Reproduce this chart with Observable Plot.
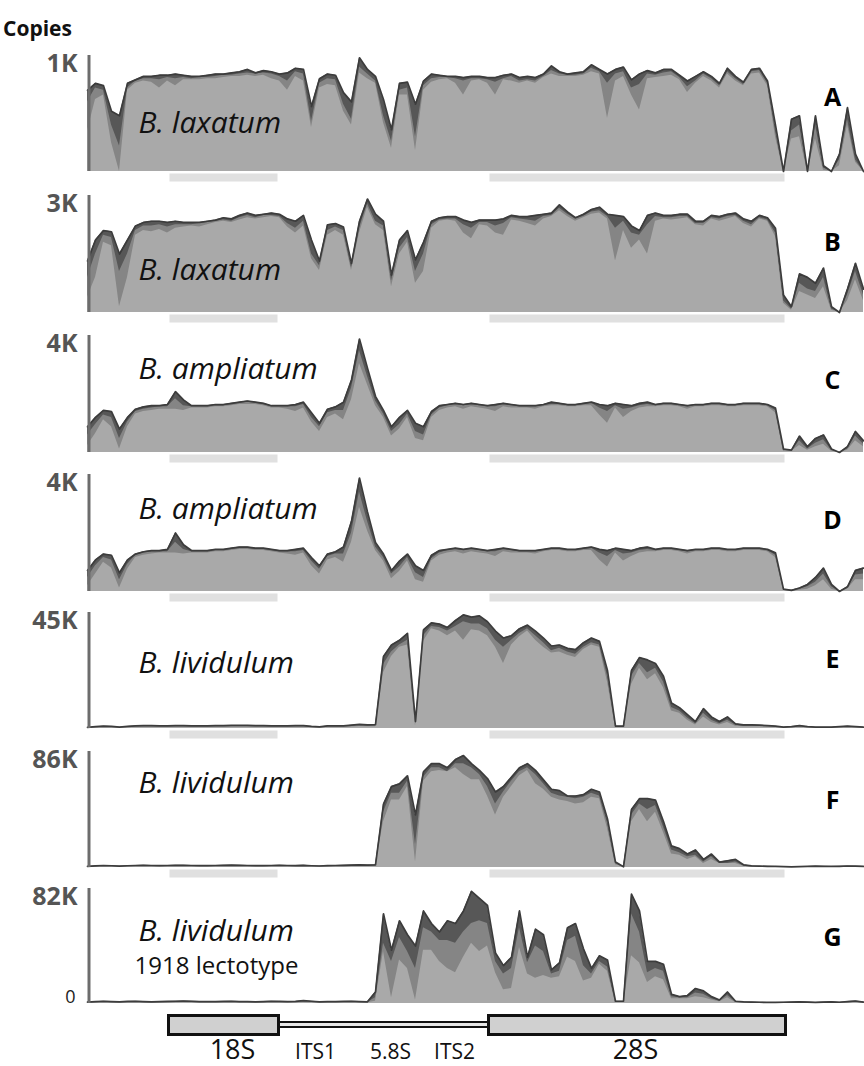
<!DOCTYPE html>
<html>
<head>
<meta charset="utf-8">
<script src="https://cdn.jsdelivr.net/npm/d3@7"></script>
<script src="https://cdn.jsdelivr.net/npm/@observablehq/plot@0.6"></script>
<style>
  html, body { margin: 0; padding: 0; background: #fff; }
  #wrap { position: relative; width: 864px; height: 1066px; font-family: "Open Sans", sans-serif; }
  #title { position: absolute; left: 3px; top: 18px; font-size: 21px; line-height: 21px; font-weight: 700; color: #111; }
  #charts { position: absolute; left: 0; top: 50px; width: 864px; }
  #charts svg { display: block; }
</style>
</head>
<body>
<div id="wrap">
  <div id="title">Copies</div>
  <div id="charts"></div>
</div>
<script>
// sample positions along the rDNA region (relative units)
const position = [0,8,16,24,32,40,48,56,64,72,80,88,96,104,112,120,128,136,144,152,160,168,176,184,192,200,208,216,224,232,240,248,256,264,272,280,288,296,304,312,320,328,336,344,352,360,368,376,384,392,400,408,416,424,432,440,448,456,464,472,480,488,496,504,512,520,528,536,544,552,560,568,576,584,592,600,608,616,624,632,640,648,656,664,672,680,688,696,704,712,720,728,736,744,752,760,768,776];

// copies (thousands); three overlaid coverage series per panel: top (dark), mid, low (light)
const A_top = [.70,.76,.74,.52,.48,.76,.79,.82,.82,.83, .83,.84,.83,.82,.82,.83,.84,.84,.85,.86, .88,.85,.87,.86,.84,.85,.89,.88,.56,.80, .84,.83,.68,.60,.98,.88,.82,.62,.36,.76, .77,.58,.78,.84,.83,.82,.82,.81,.82,.82, .81,.81,.83,.84,.81,.82,.81,.84,.91,.86, .84,.85,.86,.92,.88,.84,.88,.90,.79,.84, .87,.85,.88,.88,.83,.78,.82,.86,.82,.76, .89,.82,.77,.88,.89,.78,.40,0,.45,.48, 0,.48,.05,0,.15,.55,.15,0];
const A_mid = [.60,.72,.70,.40,.22,.72,.78,.80,.80,.79, .81,.80,.81,.80,.81,.81,.82,.83,.83,.84, .85,.84,.85,.84,.82,.78,.86,.84,.43,.76, .80,.79,.58,.45,.90,.84,.78,.48,.26,.70, .72,.30,.74,.80,.81,.81,.80,.78,.80,.80, .79,.77,.80,.82,.78,.79,.78,.82,.87,.84, .83,.83,.84,.89,.86,.76,.84,.86,.72,.75, .84,.83,.85,.86,.81,.73,.78,.84,.80,.74, .86,.80,.75,.86,.87,.76,.35,0,.35,.40, 0,.40,.03,0,.10,.45,.10,0];
const A_low = [.35,.62,.66,.25,0,.70,.76,.78,.77,.72, .78,.74,.79,.79,.79,.80,.80,.81,.82,.82, .83,.82,.83,.80,.78,.70,.82,.78,.38,.72, .75,.74,.52,.40,.85,.80,.76,.42,.20,.66, .66,.18,.70,.77,.79,.80,.76,.66,.78,.79, .76,.66,.79,.78,.76,.78,.76,.81,.84,.82, .82,.82,.83,.86,.84,.46,.78,.82,.66,.53, .80,.81,.82,.83,.79,.68,.76,.82,.78,.72, .84,.78,.74,.84,.85,.74,.30,0,.28,.30, 0,.28,.01,0,.05,.40,.08,0];

const B_top = [1.32,1.86,2.10,2.07,1.50,1.86,2.22,2.31,2.34,2.34, 2.31,2.34,2.31,2.31,2.31,2.34,2.37,2.43,2.40,2.49, 2.55,2.49,2.52,2.55,2.52,2.40,2.34,2.49,1.86,1.32, 2.25,2.28,2.19,1.26,2.34,2.91,2.52,2.34,0.96,1.86, 2.10,1.35,1.80,2.34,2.43,2.46,2.46,2.37,2.31,2.37, 2.37,2.37,2.40,2.49,2.46,2.46,2.49,2.52,2.55,2.76, 2.58,2.43,2.52,2.64,2.70,2.52,2.49,2.46,2.22,2.10, 2.49,2.55,2.49,2.49,2.52,2.52,2.34,2.34,2.49,2.46, 2.52,2.55,2.40,2.34,2.49,2.43,2.16,0.45,0.15,0.99, 0.90,0.75,1.14,0.15,0,0.60,1.26,0.60];
const B_mid = [.90,1.50,1.98,1.92,1.05,1.50,2.10,2.22,2.22,2.25, 2.19,2.25,2.25,2.25,2.28,2.31,2.34,2.37,2.34,2.43, 2.49,2.43,2.49,2.49,2.46,2.28,2.16,2.34,1.50,1.20, 2.10,2.19,2.10,1.14,2.16,2.79,2.34,2.22,.81,1.65, 1.92,1.05,1.50,2.25,2.37,2.40,2.40,2.25,2.16,2.31, 2.31,2.22,2.28,2.43,2.40,2.37,2.34,2.46,2.49,2.67, 2.52,2.40,2.46,2.58,2.61,2.46,2.16,2.34,2.04,1.98, 2.25,2.46,2.43,2.43,2.46,2.46,2.28,2.28,2.43,2.40, 2.46,2.49,2.34,2.25,2.43,2.37,2.04,.30,.09,.75, .60,.54,.90,.09,0,.45,1.05,.45];
const B_low = [.39,.90,1.80,1.71,.15,.90,1.98,2.10,2.07,2.13, 2.04,2.16,2.19,2.22,2.19,2.25,2.31,2.34,2.31,2.37, 2.43,2.40,2.43,2.46,2.43,2.19,2.04,2.22,1.38,1.08, 1.98,2.10,1.98,1.08,2.04,2.70,2.25,2.10,.66,1.50, 1.80,.75,1.05,2.16,2.34,2.37,2.34,2.04,1.89,2.25, 2.22,2.04,1.98,2.37,2.34,2.28,2.22,2.40,2.46,2.61, 2.46,2.34,2.43,2.52,2.55,2.40,1.32,2.10,1.65,1.86, 1.50,2.34,2.40,2.37,2.40,2.43,2.25,2.22,2.40,2.34, 2.40,2.46,2.28,2.19,2.40,2.34,1.95,.24,.06,.54, .45,.36,.66,.06,0,.30,.84,.30];

const C_top = [.88,1.20,1.44,1.40,.80,1.20,1.48,1.56,1.60,1.60, 1.64,2.08,1.80,1.60,1.60,1.60,1.64,1.64,1.68,1.72, 1.76,1.72,1.68,1.60,1.60,1.60,1.64,1.72,1.36,1.00, 1.48,1.56,1.72,2.48,3.88,2.88,1.92,1.44,.88,1.20, 1.44,1.00,.88,1.40,1.60,1.64,1.68,1.64,1.68,1.64, 1.60,1.64,1.68,1.64,1.60,1.60,1.60,1.64,1.72,1.68, 1.64,1.64,1.68,1.72,1.64,1.60,1.68,1.64,1.60,1.68, 1.72,1.64,1.68,1.68,1.64,1.60,1.64,1.64,1.68,1.68, 1.64,1.64,1.68,1.68,1.68,1.64,1.52,.12,.08,.56, .20,.48,.60,.12,0,.20,.72,.40];
const C_mid = [.60,.96,1.28,1.20,.48,1.04,1.40,1.48,1.52,1.56, 1.56,1.84,1.60,1.56,1.56,1.56,1.60,1.60,1.64,1.68, 1.72,1.68,1.64,1.56,1.56,1.56,1.56,1.64,1.20,.88, 1.36,1.44,1.44,2.20,3.48,2.60,1.76,1.32,.72,.96, 1.32,.72,.60,1.28,1.52,1.60,1.64,1.60,1.64,1.60, 1.56,1.56,1.64,1.60,1.56,1.56,1.56,1.60,1.64,1.64, 1.60,1.60,1.64,1.68,1.52,1.40,1.60,1.48,1.52,1.60, 1.64,1.60,1.64,1.64,1.60,1.56,1.60,1.60,1.64,1.64, 1.60,1.60,1.64,1.64,1.64,1.60,1.44,.08,.04,.40, .12,.32,.44,.08,0,.12,.56,.28];
const C_low = [.24,.64,1.12,.88,.12,.88,1.32,1.40,1.44,1.48, 1.48,1.48,1.44,1.52,1.52,1.52,1.56,1.56,1.60,1.64, 1.64,1.64,1.60,1.52,1.52,1.48,1.40,1.52,1.04,.72, 1.20,1.32,1.12,1.80,3.04,2.32,1.60,1.20,.56,.80, 1.20,.48,.40,1.20,1.44,1.52,1.56,1.48,1.56,1.52, 1.48,1.40,1.56,1.52,1.52,1.52,1.48,1.56,1.60,1.60, 1.56,1.56,1.60,1.60,1.28,1.00,1.52,1.20,1.40,1.52, 1.56,1.56,1.60,1.60,1.56,1.48,1.56,1.56,1.60,1.60, 1.56,1.56,1.60,1.60,1.60,1.56,1.36,.04,.04,.24, .08,.20,.28,.04,0,.08,.40,.20];

const D_top = [.72,1.08,1.28,1.24,.64,1.08,1.28,1.36,1.40,1.40, 1.44,2.00,1.60,1.40,1.40,1.40,1.44,1.44,1.48,1.52, 1.52,1.48,1.48,1.44,1.40,1.40,1.44,1.48,1.16,.88, 1.28,1.36,1.52,2.40,3.88,2.72,1.68,1.28,.72,1.04, 1.28,.88,.72,1.24,1.40,1.44,1.48,1.44,1.48,1.44, 1.40,1.44,1.48,1.44,1.40,1.40,1.40,1.44,1.48,1.48, 1.44,1.44,1.48,1.52,1.44,1.40,1.48,1.44,1.40,1.48, 1.52,1.44,1.48,1.48,1.44,1.40,1.44,1.44,1.48,1.48, 1.44,1.44,1.48,1.48,1.48,1.44,1.32,.08,.04,.12, .24,.48,.80,.24,0,.16,.72,.80];
const D_mid = [.48,.88,1.16,1.08,.40,.92,1.24,1.32,1.36,1.36, 1.36,1.68,1.44,1.36,1.36,1.36,1.40,1.40,1.44,1.48, 1.48,1.44,1.44,1.40,1.36,1.36,1.36,1.40,1.04,.76, 1.20,1.28,1.28,2.00,3.40,2.40,1.52,1.16,.60,.84, 1.16,.64,.48,1.12,1.32,1.40,1.44,1.40,1.44,1.40, 1.36,1.36,1.44,1.40,1.36,1.36,1.36,1.40,1.44,1.44, 1.40,1.40,1.44,1.48,1.32,1.20,1.40,1.28,1.32,1.40, 1.44,1.40,1.44,1.44,1.40,1.36,1.40,1.40,1.44,1.44, 1.40,1.40,1.44,1.44,1.44,1.40,1.24,.04,.04,.08, .16,.32,.60,.16,0,.12,.56,.60];
const D_low = [.20,.60,1.00,.80,.12,.76,1.16,1.24,1.28,1.32, 1.32,1.32,1.28,1.32,1.32,1.32,1.36,1.36,1.40,1.44, 1.44,1.40,1.40,1.36,1.32,1.28,1.24,1.32,.88,.60, 1.08,1.16,1.00,1.68,2.88,2.08,1.40,1.04,.44,.68, 1.04,.40,.32,1.04,1.24,1.32,1.36,1.28,1.36,1.32, 1.28,1.20,1.36,1.32,1.32,1.32,1.28,1.36,1.40,1.40, 1.36,1.36,1.40,1.40,1.08,.84,1.32,1.04,1.20,1.32, 1.36,1.36,1.40,1.40,1.36,1.28,1.36,1.36,1.40,1.40, 1.36,1.36,1.40,1.40,1.40,1.36,1.16,.04,0,.04, .08,.20,.40,.08,0,.08,.40,.40];

const E_top = [.4,.7,.9,.8,.5,.8,1.0,1.1,1.1,1.0, 1.0,1.1,1.1,1.0,1.0,1.0,1.1,1.1,1.2,1.2, 1.2,1.1,1.1,1.0,1.0,1.0,1.1,1.1,.8,.6, 1.0,1.0,1.0,1.3,1.6,1.4,1.5,27.9,32.4,34.2, 36.9,2.7,38.3,41.0,40.5,39.2,41.9,44.1,43.2,43.7, 41.4,37.8,35.1,36.0,38.7,40.1,37.8,35.1,32.0,32.4, 31.1,30.6,33.3,35.1,33.8,22.5,.9,.9,22.5,27.5, 26.6,25.2,20.3,9.9,8.1,5.4,2.7,7.7,4.5,2.7, 4.5,1.8,1.4,1.4,1.3,1.1,.9,.5,.7,1.1, .7,.5,.5,.5,.7,.9,.7,.5];
const E_mid = [.3,.5,.7,.6,.4,.6,.8,.8,.8,.8, .8,.8,.8,.8,.8,.8,.8,.8,.9,.9, .9,.8,.8,.8,.8,.8,.8,.8,.6,.5, .8,.8,.8,1.0,1.2,1.0,1.1,24.8,29.7,32.4, 34.2,1.8,36.0,39.6,39.2,37.8,39.6,41.4,40.5,40.5, 38.7,34.2,31.5,34.2,36.9,38.7,36.0,33.3,30.2,31.1, 29.7,28.8,31.5,33.3,32.4,20.3,.5,.5,20.3,25.2, 21.6,23.4,18.0,8.1,6.8,4.1,1.8,5.9,3.2,1.8, 3.2,1.4,.9,.9,.9,.8,.7,.4,.5,.8, .5,.4,.4,.4,.5,.7,.5,.4];
const E_low = [.2,.3,.5,.4,.3,.4,.5,.5,.5,.5, .5,.5,.5,.5,.5,.5,.5,.5,.6,.6, .6,.5,.5,.5,.5,.5,.5,.5,.4,.3, .5,.5,.5,.6,.8,.7,.7,21.6,27.9,31.5, 32.4,.9,33.8,38.7,37.8,36.0,37.8,34.2,38.3,37.8, 36.0,31.5,25.2,32.4,35.6,37.8,34.2,31.5,29.3,29.7, 28.4,27.5,30.6,32.4,31.5,18.0,.4,.4,17.1,23.4, 18.9,21.2,15.8,6.8,5.9,3.2,1.4,4.5,2.3,1.4, 2.3,.9,.7,.7,.7,.6,.5,.3,.4,.6, .4,.3,.3,.3,.4,.5,.4,.3];

const F_top = [.8,1.2,1.5,1.3,1.0,1.3,1.5,1.6,1.5,1.4, 1.5,1.6,1.6,1.5,1.4,1.4,1.5,1.6,1.7,1.6, 1.5,1.4,1.4,1.5,1.6,1.5,1.4,1.6,1.3,1.1, 1.4,1.5,1.6,1.8,2.0,1.8,2.0,47,60,62, 68,39,71,77,77,74,80,83,77,72, 66,56,60,67,74,77,72,65,58,57, 53,53,54,58,56,36,4,.5,43,51, 51,50,34,16,14,10,13,6,10,4, 5,6,2,1.2,1.0,.9,.8,.6,.5,.6, .8,1.0,.9,.8,.9,1.1,1.0,.8];
const F_mid = [.6,.9,1.1,1.0,.8,1.0,1.1,1.2,1.1,1.0, 1.1,1.2,1.2,1.1,1.0,1.0,1.1,1.2,1.3,1.2, 1.1,1.0,1.0,1.1,1.2,1.1,1.0,1.2,1.0,.8, 1.0,1.1,1.2,1.4,1.5,1.4,1.5,41,55,55, 64,17,67,74,74,71,77,77,74,69, 60,47,56,64,71,74,69,62,55,53, 52,51,52,55,53,33,3,.4,39,47, 43,46,30,13,11,8,9,4,8,3, 3,4,1.3,.9,.8,.7,.6,.5,.4,.5, .6,.8,.7,.6,.7,.8,.8,.6];
const F_low = [.4,.6,.8,.7,.5,.7,.8,.8,.8,.7, .8,.8,.8,.8,.7,.7,.8,.8,.9,.8, .8,.7,.7,.8,.8,.8,.7,.8,.7,.6, .7,.8,.8,.9,1.0,.9,1.0,34,50,50, 60,4,64,71,72,71,74,69,65,65, 53,39,52,60,68,72,62,58,52,50, 49,47,48,52,51,29,2,.3,34,43, 34,41,26,10,9,6,8,3,6,3, 3,3,1,.6,.5,.5,.4,.3,.3,.3, .4,.5,.5,.4,.5,.6,.5,.4];

const G_top = [1.0,1.3,1.6,1.4,1.2,1.5,1.6,1.4,1.2,1.3, 1.5,1.6,1.7,1.6,1.4,1.3,1.4,1.5,1.6,1.4, 1.3,1.2,1.4,1.6,1.5,1.3,1.5,2.0,1.6,1.2, 1.3,1.4,1.5,1.6,1.4,1.2,8.2,64,38,59, 49,41,66,57,51,59,57,66,80,75, 70,36,27,33,66,33,53,49,24,29, 54,57,39,25,34,31,1.6,1.6,78,66, 30,30,28,6.6,4.9,5.7,10.7,9.0,4.9,2.5, 8.2,1.6,1.2,1.0,.9,.8,.8,.9,1.0,1.2, 1.0,.8,1.0,1.2,.9,1.4,1.8,1.0];
const G_mid = [.7,.9,1.1,1.0,.8,1.0,1.1,1.0,.8,.9, 1.0,1.1,1.2,1.1,1.0,.9,1.0,1.0,1.1,1.0, .9,.8,1.0,1.1,1.0,.9,1.0,1.4,1.1,.8, .9,1.0,1.0,1.1,1.0,.8,4.1,43,30,47, 37,25,54,51,45,45,43,51,57,59, 57,30,21,25,54,29,41,37,21,23, 45,48,27,21,30,26,.8,.8,64,51, 22,25,23,4.9,4.1,4.1,7.4,6.6,3.3,1.6, 5.7,1.2,.8,.7,.6,.6,.6,.6,.7,.8, .7,.6,.7,.8,.6,1.0,1.3,.7];
const G_low = [.4,.5,.6,.6,.5,.6,.6,.6,.5,.5, .6,.6,.7,.6,.6,.5,.6,.6,.6,.6, .5,.5,.6,.6,.6,.5,.6,.8,.6,.5, .5,.6,.6,.6,.6,.5,1.6,37,4.1,31, 25,2.5,38,38,30,25,22,33,43,37, 41,22,9.8,10.7,40,21,18,20,18,19, 33,30,16,18,28,23,.8,.8,34,29, 15,19,17,3.3,3.3,3.3,4.9,4.1,2.5,1.2, 4.1,.8,.5,.4,.4,.3,.3,.4,.4,.5, .4,.3,.4,.5,.4,.6,.8,.4];

// panel metadata
const panelIds = ["A","B","C","D","E","F","G"];
const species = ["B. laxatum","B. laxatum","B. ampliatum","B. ampliatum","B. lividulum","B. lividulum","B. lividulum"];
const axisMax = [1, 3, 4, 4, 45, 86, 82];   // top tick of each panel, thousands of copies
const tickLabels = ["1K","3K","4K","4K","45K","86K","82K"];
const series = [
  [A_top, A_mid, A_low], [B_top, B_mid, B_low], [C_top, C_mid, C_low], [D_top, D_mid, D_low],
  [E_top, E_mid, E_low], [F_top, F_mid, F_low], [G_top, G_mid, G_low]
];
const subtitleG = "1918 lectotype";

// rDNA gene map (same positional units)
const rRNA = [{name: "18S", start: 81.5, end: 191.5}, {name: "28S", start: 401.5, end: 698.5}];
const spacer = [{name: "ITS1-5.8S-ITS2", start: 191.5, end: 401.5}];
const majorLabels = [{label: "18S", x: 145}, {label: "28S", x: 548}];
const minorLabels = [{label: "ITS1", x: 228}, {label: "5.8S", x: 303}, {label: "ITS2", x: 367}];

// layout (styles only)
const layout = [
  {h: 140, mb: 19, nameDy: 77, letterDy: 50},
  {h: 140, mb: 18, nameDy: 84, letterDy: 55},
  {h: 139, mb: 17, nameDy: 43, letterDy: 53},
  {h: 138, mb: 16, nameDy: 44, letterDy: 54},
  {h: 139, mb: 18, nameDy: 60, letterDy: 55},
  {h: 137, mb: 16, nameDy: 41, letterDy: 57},
  {h: 123, mb: 3,  nameDy: 52, letterDy: 57}
];
const FONT = '"Open Sans", sans-serif';
const COL = {dark: "#575757", mid: "#858585", light: "#a9a9a9", line: "#3c3c3c", axis: "#6c6c6c", bar: "#e0e0e0"};

const charts = document.getElementById("charts");

panelIds.forEach((id, k) => {
  const [top, mid, low] = series[k];
  const rows = position.map((p, i) => ({pos: p, top: top[i], mid: mid[i], low: low[i]}));
  const L = layout[k];
  const last = k === panelIds.length - 1;
  const marks = [];
  if (!last) {
    marks.push(Plot.ruleY(rRNA, {x1: "start", x2: "end", y: () => 0, dy: 6, stroke: COL.bar, strokeWidth: 8, insetLeft: 1, insetRight: 1}));
  }
  marks.push(
    Plot.areaY(rows, {x: "pos", y1: 0, y2: "top", fill: COL.dark}),
    Plot.areaY(rows, {x: "pos", y1: 0, y2: "mid", fill: COL.mid}),
    Plot.areaY(rows, {x: "pos", y1: 0, y2: "low", fill: COL.light}),
    Plot.lineY(rows, {x: "pos", y: "top", stroke: COL.line, strokeWidth: 1.7, strokeLinejoin: "round"}),
    Plot.ruleX([0], {stroke: COL.axis, strokeWidth: 3, dx: 1.5}),
    Plot.text([axisMax[k]], {y: d => d, frameAnchor: "left", text: () => tickLabels[k], textAnchor: "end", lineAnchor: "top", dx: -10, dy: -1, fontSize: 25, fontWeight: 700, fill: "#555"}),
    Plot.text([species[k]], {frameAnchor: "top-left", dx: 51, dy: L.nameDy, textAnchor: "start", lineAnchor: "bottom", fontSize: 30, fontStyle: "italic", fill: "#111"}),
    Plot.text([id], {frameAnchor: "top-left", dx: 745, dy: L.letterDy, textAnchor: "middle", lineAnchor: "bottom", fontSize: 25, fontWeight: 700, fill: "#000"})
  );
  if (last) {
    marks.push(
      Plot.text([subtitleG], {frameAnchor: "top-left", dx: 47, dy: 85, textAnchor: "start", lineAnchor: "bottom", fontSize: 24, fill: "#111"}),
      Plot.text([0], {y: d => d, frameAnchor: "left", text: d => String(d), textAnchor: "end", lineAnchor: "bottom", dx: -12, dy: -1, fontSize: 18, fill: "#222"})
    );
  }
  const svg = Plot.plot({
    width: 864, height: L.h,
    marginLeft: 87, marginRight: 0, marginTop: 5, marginBottom: L.mb,
    x: {domain: [0, 777], axis: null},
    y: {domain: [0, axisMax[k]], axis: null},
    style: {fontFamily: FONT, background: "transparent", overflow: "visible"},
    marks
  });
  charts.appendChild(svg);
});

// gene diagram
const diagram = Plot.plot({
  width: 864, height: 60,
  marginLeft: 87, marginRight: 0, marginTop: 9.5, marginBottom: 31.5,
  x: {domain: [0, 777], axis: null},
  style: {fontFamily: FONT, background: "transparent", overflow: "visible"},
  marks: [
    Plot.rect(spacer, {x1: "start", x2: "end", insetTop: 6.5, insetBottom: 7.5, fill: "#e6e6e6", stroke: "#111", strokeWidth: 2}),
    Plot.rect(rRNA, {x1: "start", x2: "end", fill: "#d0d0d0", stroke: "#111", strokeWidth: 3}),
    Plot.text(majorLabels, {x: "x", text: "label", frameAnchor: "bottom", lineAnchor: "bottom", dy: 23.5, fontSize: 27, fill: "#111"}),
    Plot.text(minorLabels, {x: "x", text: "label", frameAnchor: "bottom", lineAnchor: "bottom", dy: 23.5, fontSize: 21, fill: "#111"})
  ]
});
charts.appendChild(diagram);
</script>
</body>
</html>
